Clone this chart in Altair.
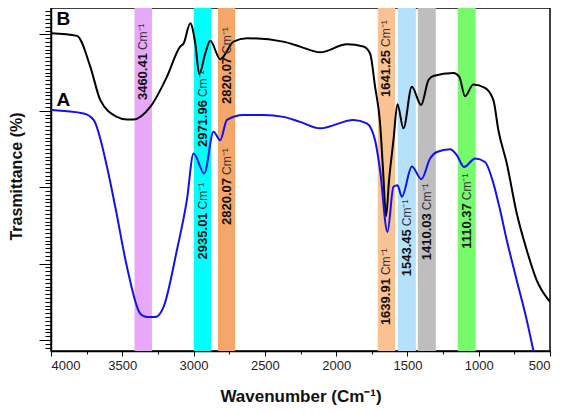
import altair as alt
import pandas as pd

FONT = "Liberation Sans"

# ---- Spectrum B (black, upper) : wavenumber (cm-1) / transmittance (a.u.)
b_wn = [4000, 3818, 3724, 3654, 3537, 3467, 3421, 3304, 3187, 3094,
        3070, 3023, 2988, 2960, 2918, 2883, 2813, 2720, 2626, 2372,
        2253, 2112, 1925, 1809, 1762, 1727, 1692, 1671, 1650, 1629,
        1598, 1570, 1528, 1469, 1404, 1353, 1318, 1178, 1136, 1096,
        1038, 956, 897, 862, 803, 733, 663, 593, 500]
b_t = [100.3, 99.6, 91.5, 82.8, 78.4, 77.7, 77.7, 81.0, 88.9, 96.8,
       97.6, 102.9, 97.6, 89.6, 95.0, 98.3, 93.5, 98.1, 99.0, 98.1,
       96.8, 95.3, 97.4, 96.8, 95.0, 86.3, 76.8, 64.5, 52.4, 61.8,
       72.3, 81.7, 75.4, 86.3, 81.5, 88.0, 89.1, 89.9, 88.9, 83.8,
       86.9, 86.0, 82.8, 74.9, 66.2, 53.1, 43.5, 35.6, 30.0]

# ---- Spectrum A (blue, lower)
a_wn = [4000, 3771, 3701, 3607, 3549, 3467, 3374, 3327, 3269, 3211,
        3117, 3047, 3000, 2925, 2860, 2813, 2766, 2650, 2510, 2369,
        2253, 2112, 1879, 1785, 1727, 1692, 1640, 1598, 1570, 1539,
        1469, 1402, 1341, 1294, 1201, 1154, 1103, 1025, 956, 897,
        850, 803, 733, 663, 617, 600]
a_t = [80.2, 79.3, 77.6, 65.3, 54.8, 39.1, 26.9, 26.0, 26.0, 28.6,
       43.5, 56.6, 68.8, 63.6, 74.5, 72.3, 77.6, 78.9, 78.9, 78.4,
       77.1, 75.4, 77.6, 76.7, 72.3, 64.5, 48.3, 60.1, 60.5, 57.5,
       65.4, 62.1, 67.5, 69.2, 69.9, 68.4, 65.3, 67.5, 66.6, 61.0,
       54.0, 46.1, 35.6, 25.2, 17.3, 14.4]

# ---- highlighted bands
band_start = [3414, 2998, 2829, 1708, 1568, 1427, 1147]
band_end = [3292, 2876, 2708, 1586, 1441, 1301, 1021]
band_colors = ["#E8A8F8", "#00FFFF", "#F5A66A", "#FAC193", "#B5E1FA", "#BEBEBE", "#77F96C"]

# ---- peak annotations
lab_num = ["3460.41", "2971.96", "2820.07", "2935.01", "2820.07",
           "1641.25", "1639.91", "1543.45", "1410.03", "1110.37"]
lab_wn = [3353, 2937, 2769, 2937, 2769, 1647, 1647, 1505, 1364, 1084]
lab_t = [95.1, 82.8, 94.1, 53.4, 62.4, 95.9, 36.2, 49.0, 53.2, 55.8]
unit_text = "Cm\u207b\u00b9"

# ---- series letters
ser_name = ["B", "A"]
ser_wn = [3914, 3914]
ser_t = [104.1, 82.9]
line_colors = ["#000000", "#1010F0"]

lines_df = pd.concat([
    pd.DataFrame({"wn": b_wn, "t": b_t, "series": "B", "color": line_colors[0]}),
    pd.DataFrame({"wn": a_wn, "t": a_t, "series": "A", "color": line_colors[1]}),
])
bands_df = pd.DataFrame({"start": band_start, "end": band_end, "color": band_colors})
labels_df = pd.DataFrame({"num": lab_num, "wn": lab_wn, "t": lab_t, "unit": unit_text})
ser_df = pd.DataFrame({"name": ser_name, "wn": ser_wn, "t": ser_t})

x_scale = alt.Scale(domain=[500, 4000], reverse=True, nice=False, zero=False)
y_scale = alt.Scale(domain=[17.12, 106.9], nice=False, zero=False)

x_axis = alt.Axis(
    values=list(range(500, 4001, 250)),
    tickCount=100,
    format="d",
    labelExpr="datum.value % 500 === 0 ? datum.label : ''",
    tickSize={"condition": {"test": "datum.value % 500 === 0", "value": 5}, "value": 3},
    labelFont=FONT, labelFontSize=13, labelColor="#222222", labelPadding=3,
    title="Wavenumber (Cm\u207b\u00b9)", titleFont=FONT, titleFontSize=17,
    titleFontWeight="bold", titleColor="#111111", titleBaseline="alphabetic", titleY=50,
)
y_axis = alt.Axis(
    values=list(range(18, 107)),
    tickCount=500,
    labels=False,
    tickSize={"condition": {"test": "datum.value % 20 === 0", "value": 12}, "value": 6},
    title="Trasmittance (%)", titleFont=FONT, titleFontSize=16, titleFontWeight="bold",
    titleColor="#111111", titleAngle=270, titleAlign="center", titleBaseline="middle",
    titleX=-35, titleY=168,
)

bands = alt.Chart(bands_df).mark_rect().encode(
    x=alt.X("start:Q", scale=x_scale, axis=x_axis),
    x2="end:Q",
    color=alt.Color("color:N", scale=None),
)

lines = alt.Chart(lines_df).mark_line(strokeWidth=2, interpolate="monotone", clip=True).encode(
    x=alt.X("wn:Q", scale=x_scale),
    y=alt.Y("t:Q", scale=y_scale, axis=y_axis),
    detail="series:N",
    color=alt.Color("color:N", scale=None),
)

nums = alt.Chart(labels_df).mark_text(
    angle=270, align="right", baseline="middle", font=FONT, fontSize=13,
    fontWeight="bold", color="#111111",
).encode(x=alt.X("wn:Q", scale=x_scale), y=alt.Y("t:Q", scale=y_scale), text="num:N")

units = alt.Chart(labels_df).mark_text(
    angle=270, align="left", baseline="middle", font=FONT, fontSize=12,
    color="#333333", dx=3,
).encode(x=alt.X("wn:Q", scale=x_scale), y=alt.Y("t:Q", scale=y_scale), text="unit:N")

letters = alt.Chart(ser_df).mark_text(
    align="center", baseline="middle", font=FONT, fontSize=19, fontWeight="bold", color="#000000",
).encode(x=alt.X("wn:Q", scale=x_scale), y=alt.Y("t:Q", scale=y_scale), text="name:N")

chart = alt.layer(bands, lines, nums, units, letters).properties(
    width=499, height=343,
    autosize=alt.AutoSizeParams(type="none"),
    padding={"left": 43, "top": 0, "right": 8, "bottom": 54},
).configure_view(
    stroke="black", strokeWidth=1.5,
).configure_axis(
    grid=False, domainColor="black", domainWidth=1.5, tickColor="black", tickWidth=1,
)

chart.save("out.html", embed_options={"renderer": "svg", "actions": False})
